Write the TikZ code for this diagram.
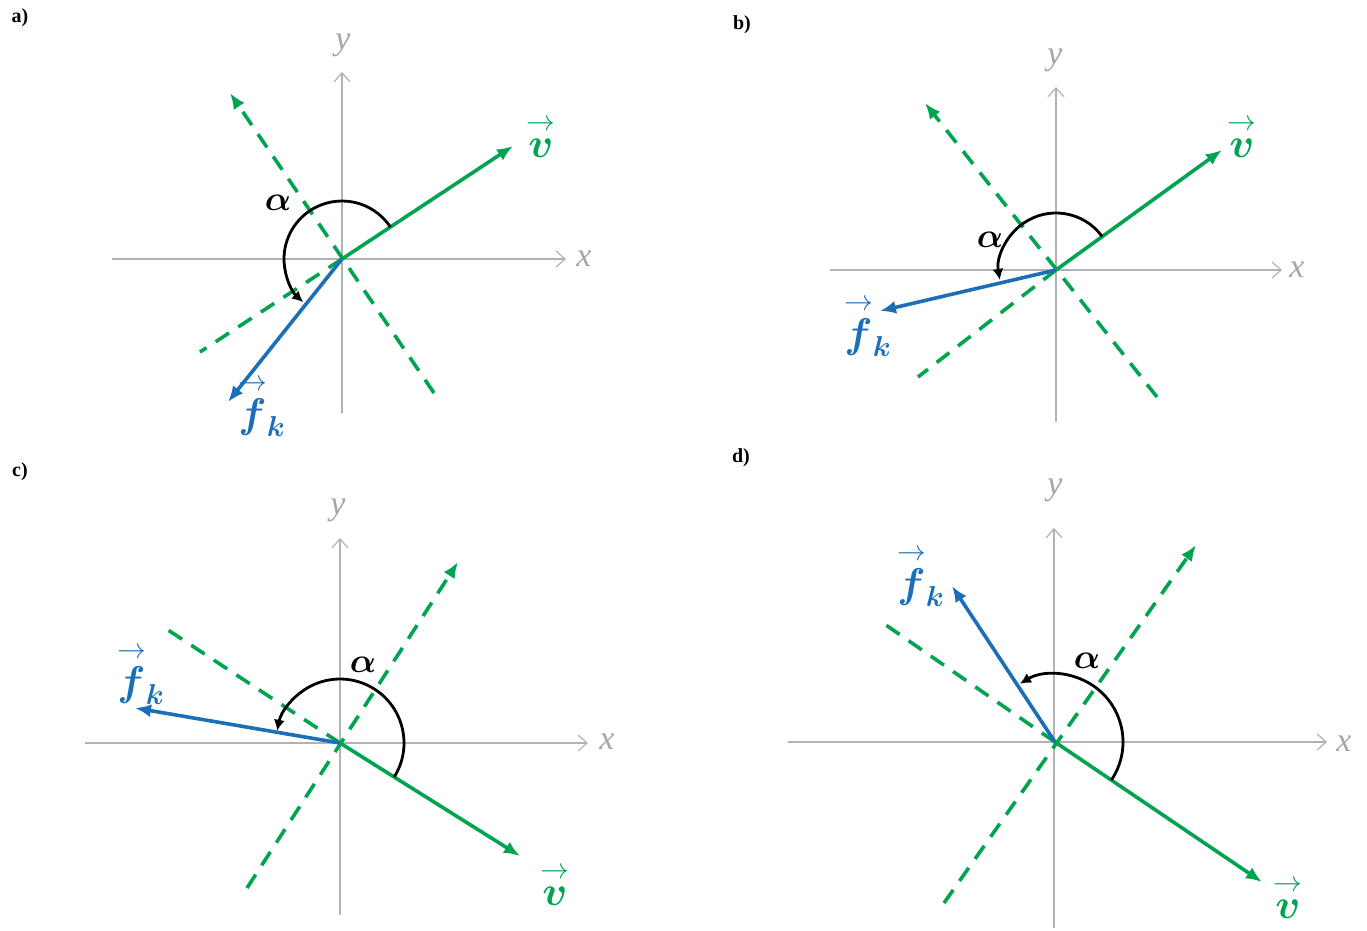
\documentclass[tikz,border=0pt]{standalone}
\usepackage{fontspec}
\setmainfont{Liberation Serif}
\usepackage{amsmath}
\usepackage{bm}
\usetikzlibrary{arrows.meta}
\definecolor{vgreen}{RGB}{0,163,80}
\definecolor{fblue}{RGB}{28,110,182}
\definecolor{axgray}{RGB}{178,178,178}
\definecolor{labgray}{RGB}{165,165,165}
\tikzset{
  axisline/.style={draw=axgray, line width=0.6pt, -{Straight Barb[length=4.5pt,width=8pt]}},
  vvec/.style={draw=vgreen, line width=1.8pt, -{Latex[length=8pt,width=6.5pt]}},
  fvec/.style={draw=fblue, line width=1.8pt, -{Latex[length=8pt,width=6.5pt]}},
  dashline/.style={draw=vgreen, line width=1.8pt, dash pattern=on 8pt off 5.5pt},
  dasharrow/.style={dashline, -{Latex[length=8pt,width=6.5pt]}},
  anglearc/.style={draw=black, line width=1.4pt, -{Latex[length=5.5pt,width=5.5pt]}},
  axlabel/.style={text=labgray, font=\fontsize{17}{17}\selectfont\itshape, inner sep=0pt},
  vlabel/.style={text=vgreen, font=\fontsize{20}{20}\selectfont, inner sep=0pt},
  flabel/.style={text=fblue, font=\fontsize{20}{20}\selectfont, inner sep=0pt},
  alabel/.style={text=black, font=\fontsize{16}{16}\selectfont, inner sep=0pt},
  panellabel/.style={text=black, font=\fontsize{10}{10}\selectfont\bfseries, inner sep=0pt}
}
\newcommand{\vecv}{$\overset{\rightarrow}{\bm{v}}$}
\newcommand{\vecfk}{$\overset{\rightarrow}{\bm{f}}_{\bm{k}}$}
\begin{document}
\begin{tikzpicture}[x=0.5pt, y=-0.5pt]
\useasboundingbox (0,0) rectangle (1367,931);

% ---------------- panel a ----------------
\node[panellabel] (aLab) at (20,18) {a)};
\coordinate (aO) at (342,259);
\coordinate (aXL) at (112,259);
\coordinate (aXR) at (566,259);
\coordinate (aYB) at (342,413);
\coordinate (aYT) at (342,72);
\coordinate (aV) at (513,146);
\coordinate (aF) at (228,402);
\coordinate (aPA) at (230,93);
\coordinate (aPE) at (434,393);
\coordinate (aB) at (200,352);
\draw[axisline] (aXL) -- (aXR);
\draw[axisline] (aYB) -- (aYT);
\node[axlabel] (aX) at (584,259) {x};
\node[axlabel] (aY) at (343,45) {y};
\draw[dasharrow] (aPE) -- (aPA);
\draw[dashline] (aO) -- (aB);
\draw[vvec] (aO) -- (aV);
\draw[fvec] (aO) -- (aF);
\draw[anglearc] (aO) ++(-33.5:58) arc[start angle=-33.5, end angle=-228, radius=58];
\node[vlabel] (aVL) at (541,137) {\vecv};
\node[flabel] (aFL) at (262,406) {\vecfk};
\node[alabel] (aA) at (278,203) {$\bm{\alpha}$};

% ---------------- panel b ----------------
\node[panellabel] (bLab) at (742,25) {b)};
\coordinate (bO) at (1056,270);
\coordinate (bXL) at (830,270);
\coordinate (bXR) at (1282,270);
\coordinate (bYB) at (1056,422);
\coordinate (bYT) at (1056,87);
\coordinate (bV) at (1222,150);
\coordinate (bF) at (880,311);
\coordinate (bPA) at (925,103);
\coordinate (bPE) at (1157,397);
\coordinate (bB) at (918,377);
\draw[axisline] (bXL) -- (bXR);
\draw[axisline] (bYB) -- (bYT);
\node[axlabel] (bX) at (1297,270) {x};
\node[axlabel] (bY) at (1055,60) {y};
\draw[dasharrow] (bPE) -- (bPA);
\draw[dashline] (bO) -- (bB);
\draw[vvec] (bO) -- (bV);
\draw[fvec] (bO) -- (bF);
\draw[anglearc] (bO) ++(-36:57) arc[start angle=-36, end angle=-190, radius=57];
\node[vlabel] (bVL) at (1242,137) {\vecv};
\node[flabel] (bFL) at (868,326) {\vecfk};
\node[alabel] (bA) at (990,240) {$\bm{\alpha}$};

% ---------------- panel c ----------------
\node[panellabel] (cLab) at (20,472) {c)};
\coordinate (cO) at (340,743);
\coordinate (cXL) at (85,743);
\coordinate (cXR) at (588,743);
\coordinate (cYB) at (340,915);
\coordinate (cYT) at (340,538);
\coordinate (cV) at (520,856);
\coordinate (cF) at (135,708);
\coordinate (cPA) at (458,562);
\coordinate (cPE) at (247,888);
\coordinate (cB) at (165,628);
\draw[axisline] (cXL) -- (cXR);
\draw[axisline] (cYB) -- (cYT);
\node[axlabel] (cX) at (607,742) {x};
\node[axlabel] (cY) at (338,510) {y};
\draw[dasharrow] (cPE) -- (cPA);
\draw[dashline] (cO) -- (cB);
\draw[vvec] (cO) -- (cV);
\draw[fvec] (cO) -- (cF);
\draw[anglearc] (cO) ++(32:64) arc[start angle=32, end angle=-169, radius=64];
\node[vlabel] (cVL) at (555,885) {\vecv};
\node[flabel] (cFL) at (141,674) {\vecfk};
\node[alabel] (cA) at (363,665) {$\bm{\alpha}$};

% ---------------- panel d ----------------
\node[panellabel] (dLab) at (741,458) {d)};
\coordinate (dO) at (1055,742);
\coordinate (dXL) at (788,742);
\coordinate (dXR) at (1327,742);
\coordinate (dYB) at (1054,928);
\coordinate (dYT) at (1054,528);
\coordinate (dV) at (1262,882);
\coordinate (dF) at (952,586);
\coordinate (dPA) at (1196,545);
\coordinate (dPE) at (944,903);
\coordinate (dB) at (883,623);
\draw[axisline] (dXL) -- (dXR);
\draw[axisline] (dYB) -- (dYT);
\node[axlabel] (dX) at (1344,744) {x};
\node[axlabel] (dY) at (1055,490) {y};
\draw[dasharrow] (dPE) -- (dPA);
\draw[dashline] (dO) -- (dB);
\draw[vvec] (dO) -- (dV);
\draw[fvec] (dO) -- (dF);
\draw[anglearc] (dO) ++(34:68) arc[start angle=34, end angle=-121, radius=68];
\node[vlabel] (dVL) at (1288,898) {\vecv};
\node[flabel] (dFL) at (921,576) {\vecfk};
\node[alabel] (dA) at (1087,661) {$\bm{\alpha}$};
\end{tikzpicture}
\end{document}
